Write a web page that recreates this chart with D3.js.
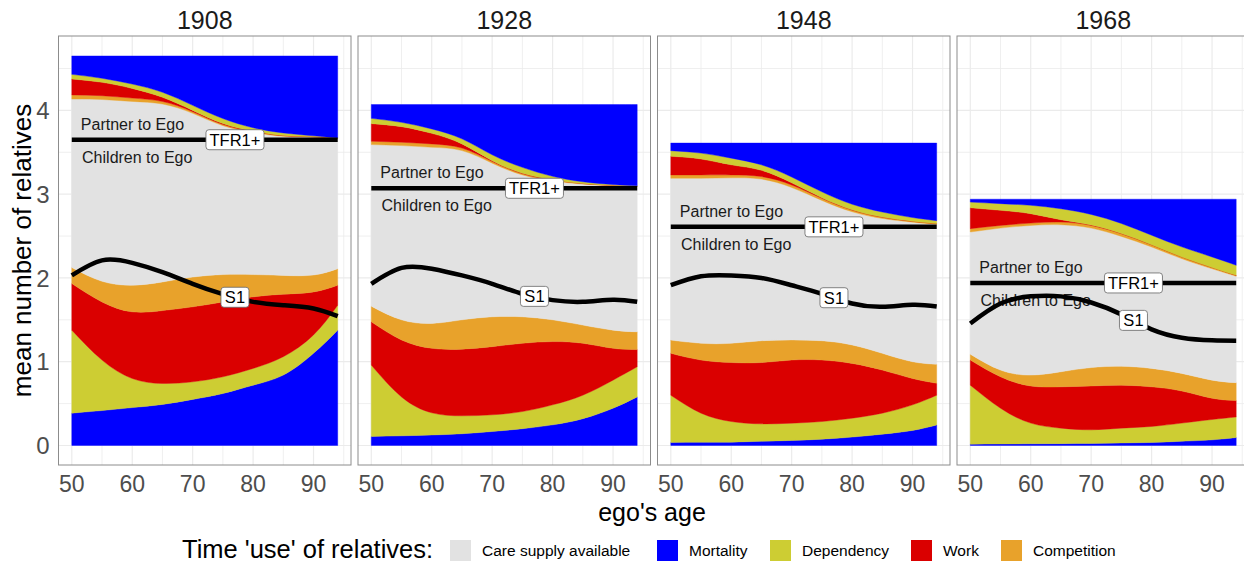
<!DOCTYPE html>
<html>
<head>
<meta charset="utf-8">
<script src="https://cdnjs.cloudflare.com/ajax/libs/d3/7.8.5/d3.min.js"></script>
<style>
  body { margin: 0; background: #fff; }
  text { font-family: "Liberation Sans", Arial, sans-serif; }
</style>
</head>
<body>
<div id="chart"></div>
<script>
// cohorts (one panel each) and ages on the x axis
var cohorts = ["1908", "1928", "1948", "1968"];
var ages = [50, 55, 60, 65, 70, 75, 80, 85, 90, 94];
var xTicks = [50, 60, 70, 80, 90];
var yTicks = [0, 1, 2, 3, 4];

// mean number of children (TFR1+) per cohort
var tfr = [3.65, 3.07, 2.61, 1.94];

// children to ego, one row per cohort
var childMortality = [
  [0.386, 0.417, 0.452, 0.49, 0.55, 0.62, 0.72, 0.84, 1.10, 1.377],
  [0.107, 0.115, 0.125, 0.14, 0.167, 0.20, 0.246, 0.32, 0.445, 0.58],
  [0.036, 0.038, 0.04, 0.05, 0.06, 0.075, 0.10, 0.135, 0.18, 0.245],
  [0.016, 0.018, 0.02, 0.022, 0.024, 0.03, 0.036, 0.05, 0.067, 0.095]
];
var childDependency = [
  [0.991, 0.603, 0.348, 0.25, 0.21, 0.20, 0.20, 0.22, 0.22, 0.298],
  [0.853, 0.465, 0.265, 0.214, 0.199, 0.205, 0.239, 0.28, 0.335, 0.36],
  [0.564, 0.348, 0.246, 0.208, 0.206, 0.211, 0.226, 0.251, 0.305, 0.355],
  [0.704, 0.427, 0.247, 0.185, 0.163, 0.177, 0.191, 0.217, 0.243, 0.245]
];
var childWork = [
  [0.556, 0.694, 0.795, 0.87, 0.895, 0.894, 0.854, 0.746, 0.513, 0.238],
  [0.516, 0.68, 0.77, 0.796, 0.814, 0.815, 0.755, 0.62, 0.38, 0.205],
  [0.50, 0.634, 0.704, 0.732, 0.754, 0.734, 0.654, 0.514, 0.315, 0.143],
  [0.30, 0.375, 0.443, 0.493, 0.523, 0.513, 0.473, 0.383, 0.254, 0.196]
];
var childCompetition = [
  [0.191, 0.246, 0.318, 0.342, 0.355, 0.326, 0.266, 0.224, 0.202, 0.197],
  [0.187, 0.24, 0.297, 0.35, 0.356, 0.316, 0.26, 0.217, 0.217, 0.212],
  [0.158, 0.20, 0.23, 0.26, 0.24, 0.23, 0.22, 0.20, 0.20, 0.227],
  [0.07, 0.08, 0.13, 0.18, 0.22, 0.225, 0.22, 0.21, 0.216, 0.214]
];
var childCare = [
  [1.526, 1.69, 1.737, 1.698, 1.64, 1.61, 1.61, 1.62, 1.615, 1.54],
  [1.407, 1.57, 1.613, 1.57, 1.534, 1.534, 1.57, 1.633, 1.693, 1.713],
  [1.352, 1.39, 1.39, 1.36, 1.35, 1.36, 1.41, 1.51, 1.61, 1.64],
  [0.85, 1.04, 1.10, 1.06, 1.01, 0.995, 1.02, 1.08, 1.16, 1.19]
];

// partner to ego, one row per cohort
var partnerCare = [
  [0.485, 0.48, 0.457, 0.426, 0.315, 0.168, 0.088, 0.04, 0.03, 0.01],
  [0.522, 0.51, 0.49, 0.45, 0.30, 0.16, 0.09, 0.05, 0.03, 0.02],
  [0.58, 0.58, 0.585, 0.57, 0.47, 0.315, 0.18, 0.10, 0.056, 0.03],
  [0.608, 0.655, 0.687, 0.695, 0.655, 0.556, 0.43, 0.29, 0.17, 0.08]
];
var partnerCompetition = [
  [0.05, 0.045, 0.04, 0.03, 0.02, 0.015, 0.01, 0.008, 0.005, 0.003],
  [0.04, 0.04, 0.04, 0.03, 0.02, 0.015, 0.01, 0.006, 0.004, 0.003],
  [0.04, 0.04, 0.035, 0.03, 0.03, 0.025, 0.02, 0.015, 0.01, 0.008],
  [0.04, 0.032, 0.028, 0.032, 0.032, 0.032, 0.025, 0.02, 0.015, 0.01]
];
var partnerWork = [
  [0.19, 0.16, 0.115, 0.05, 0.015, 0.01, 0.005, 0.003, 0.002, 0.001],
  [0.21, 0.186, 0.126, 0.05, 0.01, 0.005, 0.003, 0.002, 0.001, 0.001],
  [0.222, 0.19, 0.12, 0.075, 0.025, 0.008, 0.004, 0.002, 0.001, 0.001],
  [0.25, 0.18, 0.112, 0.028, 0.005, 0.003, 0.002, 0.001, 0.001, 0.001]
];
var partnerDependency = [
  [0.055, 0.048, 0.052, 0.06, 0.06, 0.06, 0.04, 0.03, 0.01, 0.005],
  [0.063, 0.051, 0.053, 0.06, 0.07, 0.07, 0.04, 0.02, 0.01, 0.005],
  [0.067, 0.07, 0.08, 0.065, 0.07, 0.07, 0.066, 0.06, 0.044, 0.035],
  [0.067, 0.08, 0.10, 0.131, 0.126, 0.119, 0.113, 0.12, 0.125, 0.12]
];
var partnerMortality = [
  [0.22, 0.267, 0.336, 0.434, 0.59, 0.747, 0.857, 0.919, 0.953, 0.981],
  [0.165, 0.213, 0.291, 0.41, 0.60, 0.75, 0.857, 0.922, 0.955, 0.971],
  [0.091, 0.12, 0.18, 0.26, 0.405, 0.582, 0.73, 0.823, 0.889, 0.926],
  [0.035, 0.053, 0.073, 0.114, 0.182, 0.29, 0.43, 0.569, 0.689, 0.789]
];

// S1 line per cohort
var s1 = [
  [2.03, 2.21, 2.18, 2.07, 1.93, 1.806, 1.714, 1.675, 1.636, 1.544],
  [1.93, 2.12, 2.11, 2.03, 1.93, 1.81, 1.735, 1.715, 1.74, 1.715],
  [1.913, 2.02, 2.03, 2.0, 1.913, 1.81, 1.695, 1.655, 1.68, 1.66],
  [1.457, 1.695, 1.78, 1.78, 1.707, 1.565, 1.386, 1.286, 1.255, 1.25]
];

// legend
var legendKeys = ["Care supply available", "Mortality", "Dependency", "Work", "Competition"];
var legendColors = ["#e2e2e2", "#0000ff", "#cdcd33", "#da0000", "#e8a22b"];

////////// LAYOUT //////////
var W = 1244, H = 563;
var panelLeft = 58.5, panelTop = 36, panelW = 292.5, panelH = 429, panelStep = 299.5;
var labelAge = 77;

var color = d3.scaleOrdinal().domain(legendKeys).range(legendColors);

var svg = d3.select("#chart").append("svg")
  .attr("width", W)
  .attr("height", H);

var x = d3.scaleLinear().domain([47.8, 96.2]).range([0, panelW]);
var y = d3.scaleLinear().domain([-0.233, 4.888]).range([panelH, 0]);

var childKeys = ["Mortality", "Dependency", "Work", "Competition", "Care supply available"];
var partnerKeys = ["Care supply available", "Competition", "Work", "Dependency", "Mortality"];

cohorts.forEach(function (cohort, c) {
  var g = svg.append("g")
    .attr("transform", "translate(" + (panelLeft + c * panelStep) + "," + panelTop + ")");

  // strip title
  g.append("text")
    .attr("x", panelW / 2)
    .attr("y", -7)
    .attr("text-anchor", "middle")
    .style("font-size", "25px")
    .style("fill", "#1a1a1a")
    .text(cohort);

  // grid (minor and major)
  var xMinor = d3.range(55, 96, 10), yMinor = d3.range(0.5, 4.6, 1);
  g.selectAll(".xgrid").data(xMinor.concat(xTicks)).enter().append("line")
    .attr("x1", function (d) { return x(d); }).attr("x2", function (d) { return x(d); })
    .attr("y1", 0).attr("y2", panelH)
    .style("stroke", "#ebebeb").style("stroke-width", function (d) { return d % 10 ? 0.8 : 1.2; });
  g.selectAll(".ygrid").data(yMinor.concat(yTicks)).enter().append("line")
    .attr("y1", function (d) { return y(d); }).attr("y2", function (d) { return y(d); })
    .attr("x1", 0).attr("x2", panelW)
    .style("stroke", "#ebebeb").style("stroke-width", function (d) { return d % 1 ? 0.8 : 1.2; });

  // rows of data for this cohort
  var rows = ages.map(function (a, i) {
    return {
      age: a,
      child: {
        "Mortality": childMortality[c][i], "Dependency": childDependency[c][i],
        "Work": childWork[c][i], "Competition": childCompetition[c][i],
        "Care supply available": childCare[c][i]
      },
      partner: {
        "Care supply available": partnerCare[c][i], "Competition": partnerCompetition[c][i],
        "Work": partnerWork[c][i], "Dependency": partnerDependency[c][i],
        "Mortality": partnerMortality[c][i]
      }
    };
  });

  var childStack = d3.stack().keys(childKeys).value(function (d, k) { return d.child[k]; })(rows);
  var partnerStack = d3.stack().keys(partnerKeys).value(function (d, k) { return d.partner[k]; })(rows);

  var area = function (base) {
    return d3.area()
      .curve(d3.curveNatural)
      .x(function (d) { return x(d.data.age); })
      .y0(function (d) { return y(base + d[0]); })
      .y1(function (d) { return y(base + d[1]); });
  };

  g.selectAll(".child").data(childStack).enter().append("path")
    .attr("d", area(0))
    .style("fill", function (d) { return color(d.key); })
    .style("stroke", function (d) { return color(d.key); })
    .style("stroke-width", 0.4);

  g.selectAll(".partner").data(partnerStack).enter().append("path")
    .attr("d", area(tfr[c]))
    .style("fill", function (d) { return color(d.key); })
    .style("stroke", function (d) { return color(d.key); })
    .style("stroke-width", 0.4);

  // text annotations
  g.append("text")
    .attr("x", x(51.5)).attr("y", y(tfr[c] + 0.185))
    .attr("dy", "0.35em")
    .style("font-size", "16px").style("fill", "#1a1a1a")
    .text("Partner to Ego");
  g.append("text")
    .attr("x", x(51.7)).attr("y", y(tfr[c] - 0.21))
    .attr("dy", "0.35em")
    .style("font-size", "16px").style("fill", "#1a1a1a")
    .text("Children to Ego");

  // TFR1+ line
  g.append("line")
    .attr("x1", x(50)).attr("x2", x(94))
    .attr("y1", y(tfr[c])).attr("y2", y(tfr[c]))
    .style("stroke", "#000").style("stroke-width", 4.5);

  // S1 line
  var line = d3.line()
    .curve(d3.curveNatural)
    .x(function (d, i) { return x(ages[i]); })
    .y(function (d) { return y(d); });
  g.append("path")
    .attr("d", line(s1[c]))
    .style("fill", "none")
    .style("stroke", "#000")
    .style("stroke-width", 4.5);

  // boxed labels
  var s1At = d3.scaleLinear().domain(ages).range(s1[c]);
  var addLabel = function (txt, val, w) {
    var lg = g.append("g").attr("transform", "translate(" + x(labelAge) + "," + y(val) + ")");
    lg.append("rect")
      .attr("x", -w / 2).attr("y", -10).attr("width", w).attr("height", 20)
      .attr("rx", 3)
      .style("fill", "#fff").style("stroke", "#666").style("stroke-width", 0.8);
    lg.append("text")
      .attr("text-anchor", "middle").attr("dy", "0.36em")
      .style("font-size", "16.5px").style("fill", "#000")
      .text(txt);
  };
  addLabel("TFR1+", tfr[c], 58);
  addLabel("S1", s1At(labelAge), 28);

  // panel border
  g.append("rect")
    .attr("width", panelW).attr("height", panelH)
    .style("fill", "none").style("stroke", "#8c8c8c").style("stroke-width", 1);

  // x axis labels
  g.selectAll(".xlab").data(xTicks).enter().append("text")
    .attr("x", function (d) { return x(d); })
    .attr("y", panelH + 27)
    .attr("text-anchor", "middle")
    .style("font-size", "23px").style("fill", "#4d4d4d")
    .text(function (d) { return d; });

  // y axis labels on the first panel only
  if (c === 0) {
    g.selectAll(".ylab").data(yTicks).enter().append("text")
      .attr("x", -9)
      .attr("y", function (d) { return y(d); })
      .attr("dy", "0.36em")
      .attr("text-anchor", "end")
      .style("font-size", "24px").style("fill", "#4d4d4d")
      .text(function (d) { return d; });
  }
});

// axis titles
svg.append("text")
  .attr("x", 652).attr("y", 521)
  .attr("text-anchor", "middle")
  .style("font-size", "25px").style("fill", "#000")
  .text("ego's age");
svg.append("text")
  .attr("transform", "translate(31," + (panelTop + panelH / 2) + ") rotate(-90)")
  .attr("text-anchor", "middle")
  .style("font-size", "26px").style("fill", "#000")
  .text("mean number of relatives");

// legend
var legend = svg.append("g");
legend.append("text")
  .attr("x", 182).attr("y", 558)
  .style("font-size", "25.5px").style("fill", "#000")
  .text("Time 'use' of relatives:");
var keyX = [450, 657, 770, 911, 1001];
legend.selectAll(".key").data(legendKeys).enter().append("rect")
  .attr("x", function (d, i) { return keyX[i]; })
  .attr("y", 540)
  .attr("width", 21).attr("height", 21)
  .style("fill", function (d) { return color(d); });
legend.selectAll(".keylab").data(legendKeys).enter().append("text")
  .attr("x", function (d, i) { return keyX[i] + 32; })
  .attr("y", 556)
  .style("font-size", "15.5px").style("fill", "#000")
  .text(function (d) { return d; });
</script>
</body>
</html>
